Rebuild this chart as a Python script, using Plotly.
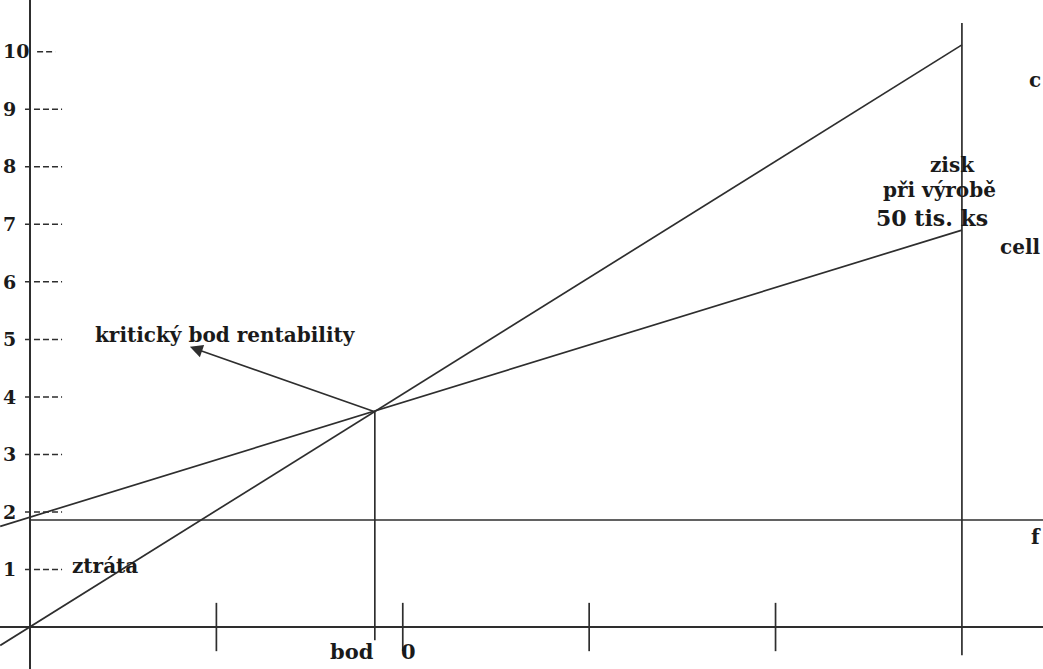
import plotly.graph_objects as go

# ---- data (units: x = tis. ks, y = value) ----
x_ticks = [10, 20, 30, 40]
y_ticks = [1, 2, 3, 4, 5, 6, 7, 8, 9, 10]
y_tick_text = ["1", "2", "3", "4", "5", "6", "7", "8", "9", "10"]

revenue_x = [-1.6, 50]          # celkové tržby
revenue_y = [-0.32, 10.12]
cost_x = [-1.6, 50]             # celkové náklady
cost_y = [1.75, 6.90]
fixed_x = [0, 54.4]             # fixní náklady
fixed_y = [1.86, 1.86]
breakeven_x = 18.5
breakeven_y = 3.74
volume_x = 50                   # výroba 50 tis. ks

X_RANGE = [-1.61, 54.35]
Y_RANGE = [-0.73, 10.90]

LINE = dict(color="#2e2e2e", width=1.7)
FONT = "DejaVu Serif"
TXT = "#1a1a1a"

fig = go.Figure()

# main lines
fig.add_trace(go.Scatter(x=revenue_x, y=revenue_y, mode="lines", line=LINE, hoverinfo="skip"))
fig.add_trace(go.Scatter(x=cost_x, y=cost_y, mode="lines", line=LINE, hoverinfo="skip"))
fig.add_trace(go.Scatter(x=fixed_x, y=fixed_y, mode="lines", line=LINE, hoverinfo="skip"))

# vertical at break-even point
fig.add_trace(go.Scatter(x=[breakeven_x, breakeven_x], y=[breakeven_y, -0.23],
                         mode="lines", line=LINE, hoverinfo="skip"))
# vertical at production volume
fig.add_trace(go.Scatter(x=[volume_x, volume_x], y=[10.5, -0.49],
                         mode="lines", line=LINE, hoverinfo="skip"))

# x tick marks crossing the axis
tx, ty = [], []
for t in x_ticks:
    tx += [t, t, None]
    ty += [-0.42, 0.42, None]
fig.add_trace(go.Scatter(x=tx, y=ty, mode="lines", line=LINE, hoverinfo="skip"))

# dashed tick leaders on the y axis
dx, dy = [], []
for t in y_ticks:
    if t == 10:
        dx += [0.38, 1.35, None]
    else:
        dx += [-0.27, 1.72, None]
    dy += [t, t, None]
fig.add_trace(go.Scatter(x=dx, y=dy, mode="lines",
                         line=dict(color="#2e2e2e", width=1.5, dash="6px,3px"),
                         hoverinfo="skip"))

def f(size):
    return dict(family=FONT, size=size, color=TXT, weight="bold")

annotations = [
    dict(x=10.5, y=5.08, text="kritický bod rentability", font=f(20)),
    dict(x=49.5, y=8.03, text="zisk", font=f(20)),
    dict(x=48.8, y=7.60, text="při výrobě", font=f(20)),
    dict(x=48.4, y=7.11, text="50 tis. ks", font=f(22)),
    dict(x=2.15, y=1.06, text="ztráta", xanchor="left", font=f(20)),
    dict(x=17.27, y=-0.43, text="bod", font=f(21)),
    dict(x=20.3, y=-0.43, text="0", font=f(21)),
    # labels at the right edge, only their beginnings are visible
    dict(x=54.35, y=9.51, text="c", xanchor="right", font=f(20)),
    dict(x=54.35, y=6.61, text="cell", xanchor="right", font=f(20)),
    dict(x=54.35, y=1.57, text="f", xanchor="right", font=f(20)),
]
for a in annotations:
    a.setdefault("xanchor", "center")
    a.update(showarrow=False, yanchor="middle", xref="x", yref="y")
    fig.add_annotation(**a)

# arrow pointing from the break-even point to its label
fig.add_annotation(x=8.58, y=4.87, ax=breakeven_x, ay=breakeven_y,
                   xref="x", yref="y", axref="x", ayref="y", text="",
                   showarrow=True, arrowhead=2, arrowsize=1.6, arrowwidth=1.6,
                   arrowcolor="#2e2e2e")

fig.update_layout(
    width=1043, height=669,
    margin=dict(l=0, r=0, t=0, b=0),
    paper_bgcolor="white", plot_bgcolor="white",
    showlegend=False,
    xaxis=dict(range=X_RANGE, showgrid=False, showticklabels=False, ticks="",
               zeroline=True, zerolinecolor="#2e2e2e", zerolinewidth=2,
               showline=False, fixedrange=True),
    yaxis=dict(range=Y_RANGE, showgrid=False, tickvals=y_ticks, ticktext=y_tick_text,
               ticks="", ticklabelposition="inside", ticklabelstandoff=0,
               tickfont=f(19),
               zeroline=True, zerolinecolor="#2e2e2e", zerolinewidth=1.8,
               showline=False, fixedrange=True),
)

fig.write_html("out.html", config={"displayModeBar": False},
               post_script="document.body.style.margin='0';document.body.style.overflow='hidden';")
